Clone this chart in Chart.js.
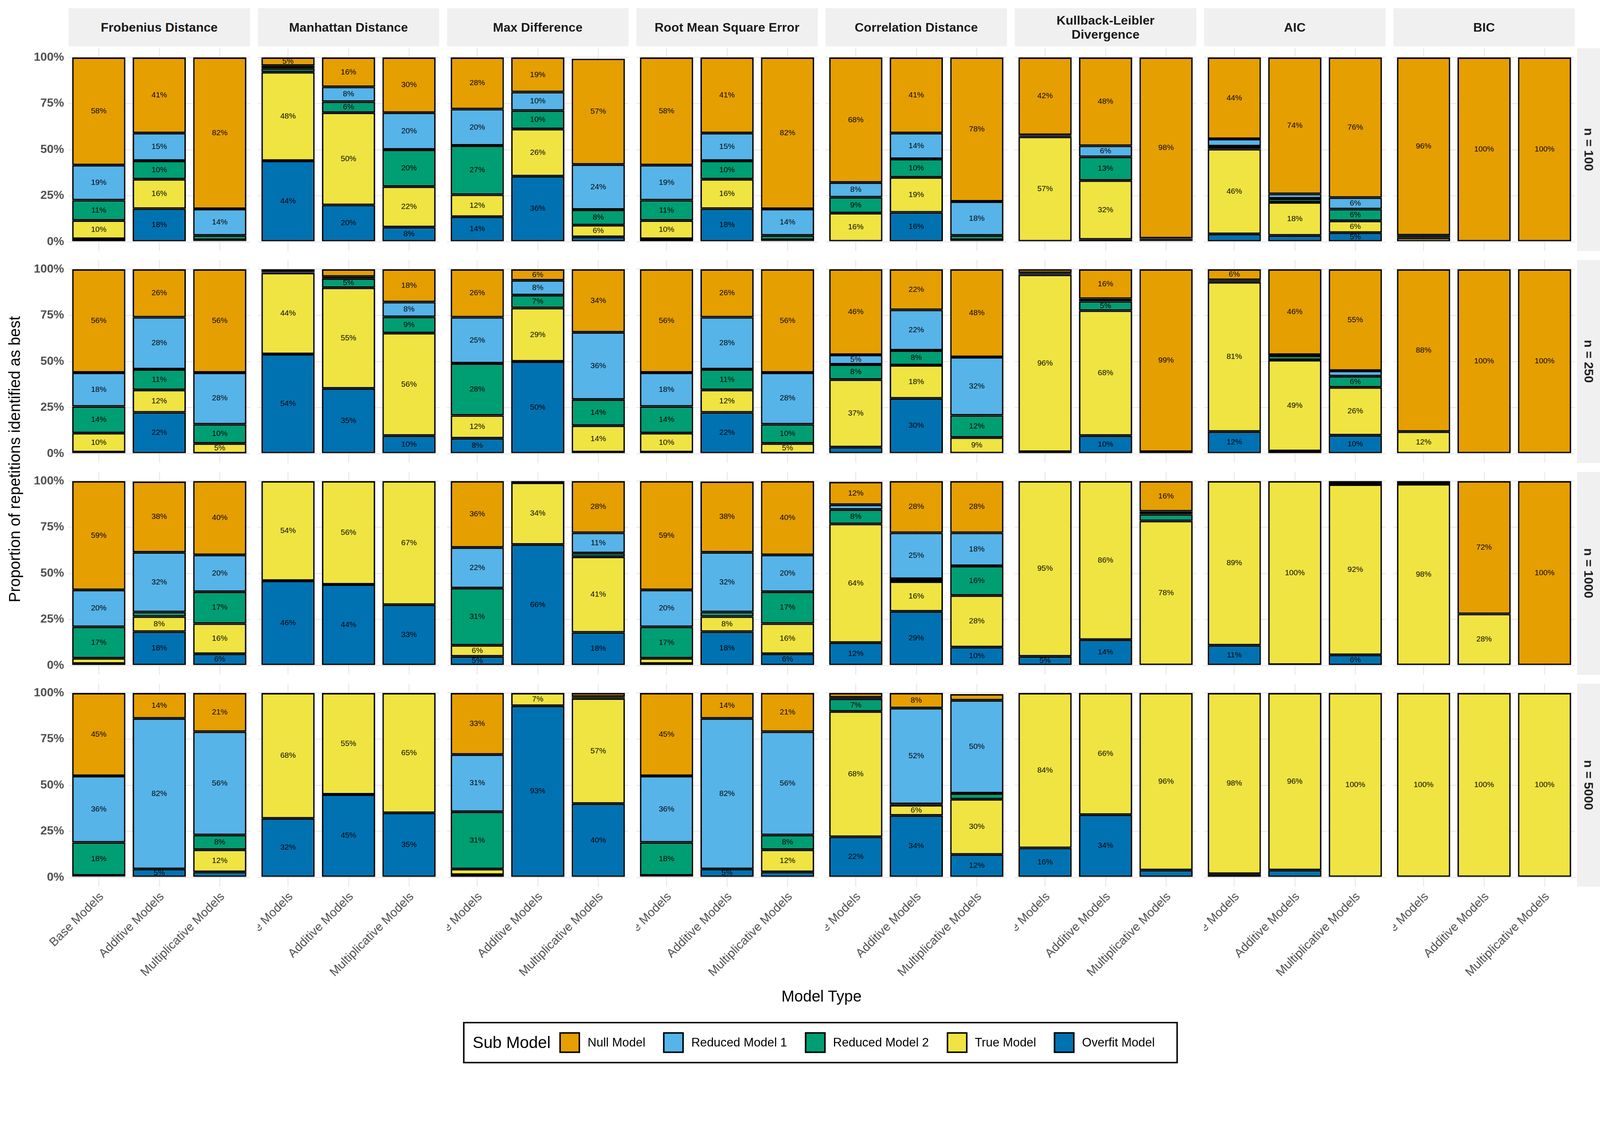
<!DOCTYPE html>
<html>
<head>
<meta charset="utf-8">
<script src="https://cdn.jsdelivr.net/npm/chart.js@4.4.1/dist/chart.umd.min.js"></script>
<style>
  html, body { margin: 0; padding: 0; background: #fff; overflow: hidden; }
  #page { position: relative; width: 4320px; height: 2880px; font-family: "Liberation Sans", Arial, sans-serif; overflow: hidden; transform-origin: 0 0; }
  .strip { position: absolute; background: #F0F0F0; display: flex; align-items: center; justify-content: center; text-align: center; font-weight: bold; font-size: 34px; color: #1A1A1A; line-height: 1.1; }
  .rstrip span { transform: rotate(90deg); white-space: nowrap; display: block; }
  canvas { position: absolute; }
  .title { position: absolute; font-size: 42px; color: #000; white-space: nowrap; }
  #legend { position: absolute; left: 2215px; top: 2759px; height: 112px; transform: translateX(-50%); border: 4px solid #000; box-sizing: border-box; display: flex; align-items: center; padding: 0 10px 0 22px; font-size: 33px; white-space: nowrap; }
  #legend .lt { font-size: 44px; margin-right: 24px; }
  #legend .sw { width: 56px; height: 56px; border: 4px solid #000; box-sizing: border-box; margin-right: 20px; }
  #legend .it { display: flex; align-items: center; margin-right: 48px; }
</style>
</head>
<body>
<div id="page"></div>
<script>
const metrics = ["Frobenius Distance", "Manhattan Distance", "Max Difference", "Root Mean Square Error",
  "Correlation Distance", "Kullback-Leibler\nDivergence", "AIC", "BIC"];
const modelTypes = ["Base Models", "Additive Models", "Multiplicative Models"];
const subModels = ["Overfit Model", "True Model", "Reduced Model 2", "Reduced Model 1", "Null Model"];
const subColours = ["#0072B2", "#F0E442", "#009E73", "#56B4E9", "#E69F00"];
const legendOrder = [4, 3, 2, 1, 0];
const sampleSizes = ["n = 100", "n = 250", "n = 1000", "n = 5000"];
const yTicks = [0, 25, 50, 75, 100];

// each bar: [overfit, true, reduced 2, reduced 1, null] in percent
const n100 = [
  [[1.6, 10, 11, 19, 58.4], [18, 16, 10, 15, 41], [0.5, 0.5, 2.5, 14.4, 82.1]],
  [[44, 48, 2, 1.5, 4.5], [20, 50, 6, 8, 16], [8, 22, 20, 20, 30]],
  [[13.6, 12, 26.6, 19.8, 28], [35.6, 25.6, 10, 10, 18.8], [2.7, 6.4, 8.4, 24.4, 57.4]],
  [[1.6, 10, 11, 19, 58.4], [18, 16, 10, 15, 41], [0.5, 0.5, 2.5, 14.4, 82.1]],
  [[0, 15.6, 8.6, 8, 67.8], [16, 19, 10, 14, 41], [0.5, 0.5, 2.5, 18.4, 78.1]],
  [[0, 57, 0.5, 0.5, 42], [1.3, 32, 12.8, 6, 47.9], [0.5, 0.5, 0.5, 0.5, 98]],
  [[4.3, 46, 1.5, 4, 44.2], [3.5, 18, 2, 2.5, 74], [5, 6.4, 6.4, 6.2, 76]],
  [[0, 2.2, 0.6, 0.8, 96.4], [0, 0, 0, 0, 100], [0, 0, 0, 0, 100]]
];
const n250 = [
  [[0.8, 10.4, 14.4, 18.4, 56], [22.4, 12.2, 11.2, 28.2, 26], [0.2, 5.4, 10.4, 28, 56]],
  [[54, 44, 0.5, 0.5, 1], [35.4, 54.6, 5, 1, 4], [9.8, 55.6, 8.8, 8, 17.8]],
  [[8.4, 12.4, 28.2, 25, 26], [50, 29, 7, 8, 6], [0.8, 14.4, 14.2, 36.4, 34.2]],
  [[0.8, 10.4, 14.4, 18.4, 56], [22.4, 12.2, 11.2, 28.2, 26], [0.2, 5.4, 10.4, 28, 56]],
  [[3.6, 36.6, 8.2, 5.2, 46.4], [30, 18, 8, 22, 22], [0, 8.8, 12, 31.6, 47.6]],
  [[1, 96, 0.5, 0.5, 2], [9.8, 67.8, 5, 1.4, 16], [0.6, 0.4, 0, 0, 99]],
  [[12, 81, 0.6, 0.6, 5.8], [1.4, 49.4, 2.4, 0.4, 46.4], [10, 26, 6, 3, 55]],
  [[0, 12, 0, 0, 88], [0, 0, 0, 0, 100], [0, 0, 0, 0, 100]]
];
const n1000 = [
  [[1, 3, 17, 20, 59], [18.4, 8.2, 2.4, 32.4, 38.4], [6.4, 16.4, 17.2, 20, 40]],
  [[46, 54, 0, 0, 0], [44, 56, 0, 0, 0], [33, 67, 0, 0, 0]],
  [[5, 6, 31, 22, 36], [65.6, 33.6, 0.4, 0.2, 0.2], [18, 41, 2, 11, 28]],
  [[1, 3, 17, 20, 59], [18.4, 8.2, 2.4, 32.4, 38.4], [6.4, 16.4, 17.2, 20, 40]],
  [[12.4, 64.4, 7.8, 2.6, 12.4], [29.4, 16.2, 1.4, 25, 28], [10, 28, 16, 18, 28]],
  [[5, 95, 0, 0, 0], [14, 86, 0, 0, 0], [0, 78.4, 3.6, 1.6, 16.4]],
  [[11, 89, 0, 0, 0], [0.4, 99.6, 0, 0, 0], [5.8, 92.4, 0.4, 0.6, 0.8]],
  [[0, 98.4, 0, 0.4, 1.2], [0, 28, 0, 0, 72], [0, 0, 0, 0, 100]]
];
const n5000 = [
  [[0.5, 0.5, 18, 36, 45], [4.6, 0, 0, 81.6, 13.8], [3, 12, 8, 56, 21]],
  [[32, 68, 0, 0, 0], [45, 55, 0, 0, 0], [35, 65, 0, 0, 0]],
  [[1.4, 3.2, 31, 31, 33.4], [93, 7, 0, 0, 0], [40, 57, 0.5, 0.5, 2]],
  [[0.5, 0.5, 18, 36, 45], [4.6, 0, 0, 81.6, 13.8], [3, 12, 8, 56, 21]],
  [[22, 68, 6.8, 0.8, 2.4], [33.6, 5.6, 0.6, 52, 8.2], [12.4, 30, 3.2, 50.4, 3.4]],
  [[16, 84, 0, 0, 0], [34, 66, 0, 0, 0], [4, 96, 0, 0, 0]],
  [[2, 98, 0, 0, 0], [4, 96, 0, 0, 0], [0, 100, 0, 0, 0]],
  [[0, 100, 0, 0, 0], [0, 100, 0, 0, 0], [0, 100, 0, 0, 0]]
];
const rows = [n100, n250, n1000, n5000];

// layout (pixels in the 4320x2880 page)
const LEFT0 = 185, PITCH_X = 511, PANEL_W = 490;
const TOP0 = 130, PITCH_Y = 572, PANEL_H = 548;
const Y_AXIS_W = 125, X_AXIS_H = 330;
const FONT = "'Liberation Sans', Arial, sans-serif";

const page = document.getElementById("page");
// the window may not be exactly 4320 css px wide; fit the page to it
const fit = (window.innerWidth || 4320) / 4320;
if (Math.abs(fit - 1) > 0.001) page.style.transform = "scale(" + fit + ")";

// percentage labels in the middle of each segment, plus hand-drawn tick labels
const panelText = {
  id: "panelText",
  afterDatasetsDraw(chart) {
    const ctx = chart.ctx;
    const area = chart.chartArea;
    ctx.save();
    ctx.fillStyle = "#000";
    ctx.font = "21px " + FONT;
    ctx.textAlign = "center";
    ctx.textBaseline = "middle";
    chart.data.datasets.forEach((ds, di) => {
      chart.getDatasetMeta(di).data.forEach((bar, i) => {
        const v = Math.round(ds.data[i]);
        if (v >= 5) ctx.fillText(v + "%", bar.x, (bar.y + bar.base) / 2);
      });
    });
    const o = chart.options.plugins.panelText;
    ctx.fillStyle = "#4D4D4D";
    if (o.first) {
      ctx.font = "bold 32px " + FONT;
      ctx.textAlign = "right";
      yTicks.forEach(v => ctx.fillText(v + "%", area.left - 12, chart.scales.y.getPixelForValue(v)));
    }
    if (o.last) {
      ctx.font = "33px " + FONT;
      ctx.textAlign = "right";
      ctx.textBaseline = "middle";
      modelTypes.forEach((lab, i) => {
        ctx.save();
        ctx.translate(chart.scales.x.getPixelForValue(i) + 8, area.bottom + 22);
        ctx.rotate(-Math.PI / 4);
        ctx.fillText(lab, 0, 0);
        ctx.restore();
      });
    }
    ctx.restore();
  }
};

metrics.forEach((m, c) => {
  const s = document.createElement("div");
  s.className = "strip";
  s.style.left = (LEFT0 + c * PITCH_X) + "px";
  s.style.top = "22px";
  s.style.width = PANEL_W + "px";
  s.style.height = "103px";
  s.innerText = m;
  page.appendChild(s);
});

sampleSizes.forEach((n, r) => {
  const s = document.createElement("div");
  s.className = "strip rstrip";
  s.style.left = "4258px";
  s.style.top = (TOP0 + r * PITCH_Y) + "px";
  s.style.width = "62px";
  s.style.height = PANEL_H + "px";
  s.innerHTML = "<span>" + n + "</span>";
  page.appendChild(s);
});

rows.forEach((rowData, r) => {
  rowData.forEach((panel, c) => {
    const first = c === 0, last = r === rows.length - 1;
    const cv = document.createElement("canvas");
    const w = PANEL_W + (first ? Y_AXIS_W : 0);
    const h = PANEL_H + (last ? X_AXIS_H : 0);
    cv.width = w; cv.height = h;
    cv.style.left = (LEFT0 + c * PITCH_X - (first ? Y_AXIS_W : 0)) + "px";
    cv.style.top = (TOP0 + r * PITCH_Y) + "px";
    cv.style.width = w + "px"; cv.style.height = h + "px";
    page.appendChild(cv);
    new Chart(cv, {
      type: "bar",
      data: {
        labels: modelTypes,
        datasets: subModels.map((sm, k) => ({
          label: sm,
          data: panel.map(bar => bar[k]),
          backgroundColor: subColours[k],
          borderColor: "#000",
          borderWidth: 4,
          borderSkipped: false,
          barPercentage: 0.88,
          categoryPercentage: 1
        }))
      },
      options: {
        responsive: false,
        animation: false,
        devicePixelRatio: 1,
        layout: { padding: 0 },
        plugins: { legend: { display: false }, tooltip: { enabled: false }, panelText: { first, last } },
        scales: {
          x: {
            stacked: true,
            grid: { color: "#EBEBEB", lineWidth: 3, offset: false, drawTicks: false },
            border: { display: false },
            ticks: { display: false },
            afterFit: s => { s.height = last ? X_AXIS_H : 0; }
          },
          y: {
            stacked: true, min: -5, max: 105,
            afterBuildTicks: s => { s.ticks = yTicks.map(v => ({ value: v })); },
            grid: { color: "#EBEBEB", lineWidth: 3, drawTicks: false },
            border: { display: false },
            ticks: { display: false },
            afterFit: s => { s.width = first ? Y_AXIS_W : 0; }
          }
        }
      },
      plugins: [panelText]
    });
  });
});

const yTitle = document.createElement("div");
yTitle.className = "title";
yTitle.innerText = "Proportion of repetitions identified as best";
yTitle.style.left = "40px";
yTitle.style.top = "1240px";
yTitle.style.transform = "translate(-50%, -50%) rotate(-90deg)";
page.appendChild(yTitle);

const xTitle = document.createElement("div");
xTitle.className = "title";
xTitle.innerText = "Model Type";
xTitle.style.left = "2218px";
xTitle.style.top = "2690px";
xTitle.style.transform = "translate(-50%, -50%)";
page.appendChild(xTitle);

const legend = document.createElement("div");
legend.id = "legend";
legend.innerHTML = '<span class="lt">Sub Model</span>' + legendOrder.map(k =>
  '<span class="it"><span class="sw" style="background:' + subColours[k] + '"></span>' + subModels[k] + '</span>').join("");
page.appendChild(legend);
</script>
</body>
</html>
